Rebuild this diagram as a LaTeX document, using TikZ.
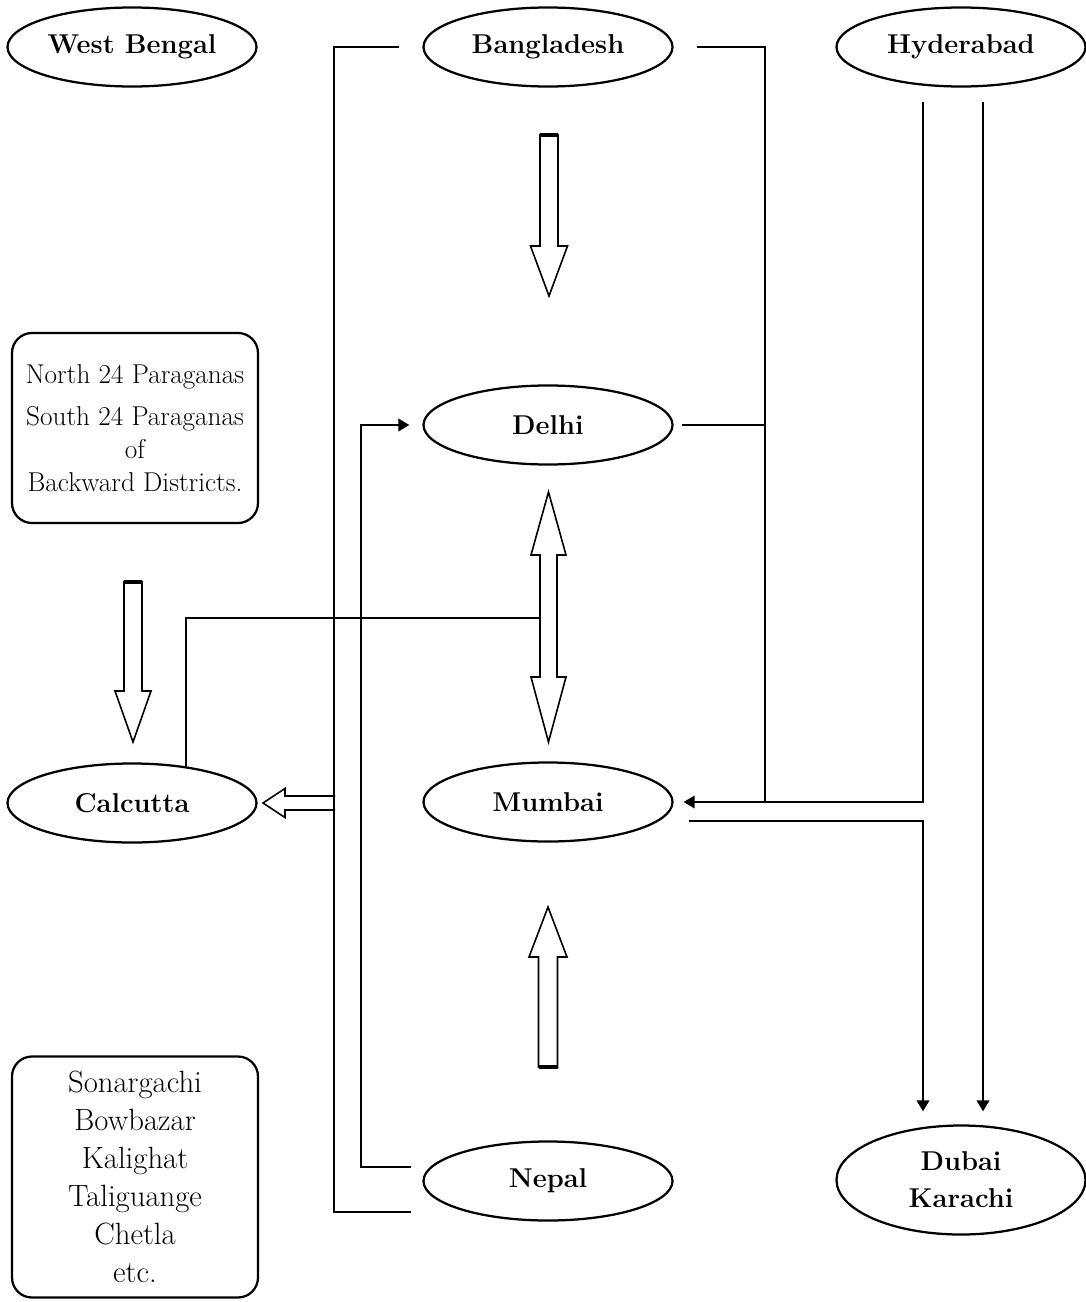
\documentclass[tikz,border=0pt]{standalone}
\usepackage{tikz}
\usetikzlibrary{shapes.geometric,arrows.meta,calc}

\tikzset{
	place/.style={shape=ellipse,draw=black,line width=0.45mm,minimum width=49.8mm,minimum height=15.8mm,inner sep=0pt,align=center,font=\fontsize{15.5}{21}\selectfont\bfseries},
	areas/.style={draw=black,rounded corners=4mm,line width=0.45mm,inner sep=0pt,minimum width=49.2mm,align=center},
	link/.style={line width=0.4mm},
	pointer/.style={-{Triangle[length=2.2mm,width=2.5mm]}},
	hollow/.style={line width=0.32mm,line join=miter},
	tailend/.style={line width=0.7mm}
}

\begin{document}
\begin{tikzpicture}[x=0.2mm,y=-0.2mm]
	\useasboundingbox (0,0) rectangle (1085,1302);

	\node[place] (wb) at (132,47)   {West Bengal};
	\node[place] (bd) at (548,47)   {Bangladesh};
	\node[place] (hy) at (961,47)   {Hyderabad};
	\node[place] (dl) at (548,425)  {Delhi};
	\node[place] (cal) at (132,803) {Calcutta};
	\node[place] (mb) at (548,802)  {Mumbai};
	\node[place] (np) at (548,1181) {Nepal};
	\node[place,minimum height=21.8mm] (dk) at (961,1180) {Dubai\\Karachi};

	\node[areas,minimum height=38mm,font=\fontsize{15.5}{18.8}\selectfont] (pg) at (135,428)
		{North 24 Paraganas\\[5pt]South 24 Paraganas\\of\\Backward Districts.};
	\node[areas,minimum height=48.2mm,font=\fontsize{17.5}{21.6}\selectfont] (rl) at (135,1177)
		{Sonargachi\\Bowbazar\\Kalighat\\Taliguange\\Chetla\\etc.};

	\coordinate (bdtail) at (549,135);
	\coordinate (dmtop) at (548.5,492);
	\coordinate (dmleft) at (540,618);
	\coordinate (pgtail) at (133,582);
	\coordinate (nptail) at (548,1067);
	\coordinate (caltail) at (335,803);

	% bangladesh
	\draw[link] ($(bd.west)+(-23,0)$) -- ++(-65,0) |- ($(np.west)+(-11,31)$);
	\draw[link] ($(bd.east)+(23,0)$) -| ($(mb.east)+(91,0)$);
	\draw[link] ($(dl.east)+(8,0)$) -- ++(84,0);
	% hyderabad
	\draw[link,pointer] ($(hy.south)+(-38,14)$) |- ($(mb.east)+(10,0)$);
	\draw[link,pointer] ($(hy.south)+(22,14)$) -- ($(dk.north)+(22,-13)$);
	\draw[link,pointer] ($(mb.east)+(15,19)$) -| ($(dk.north)+(-38,-13)$);
	% nepal
	\draw[link,pointer] ($(np.west)+(-11,-14)$) -- ++(-50,0) |- ($(dl.west)+(-13,0)$);
	% calcutta
	\draw[link] (cal.34) |- (dmleft);

	% hollow arrows
	\draw[hollow] (bdtail) ++(-9,0) -- ++(0,111) -- ++(-9.5,0) -- ++(18.5,50) -- ++(18.5,-50) -- ++(-9.5,0) -- ++(0,-111) -- cycle;
	\draw[tailend] (bdtail) ++(-9,0) -- ++(18,0);
	\draw[hollow] (dmtop) -- ++(17.5,63) -- ++(-9,0) -- ++(0,122) -- ++(9,0) -- ++(-17.5,65) -- ++(-17.5,-65) -- ++(9,0) -- ++(0,-122) -- ++(-9,0) -- cycle;
	\draw[hollow] (pgtail) ++(-9,0) -- ++(0,109) -- ++(-9,0) -- ++(18,51) -- ++(18,-51) -- ++(-9,0) -- ++(0,-109) -- cycle;
	\draw[tailend] (pgtail) ++(-9,0) -- ++(18,0);
	\draw[hollow] (nptail) ++(-9.5,0) -- ++(0,-110) -- ++(-9.5,0) -- ++(19,-50) -- ++(19,50) -- ++(-9.5,0) -- ++(0,110) -- cycle;
	\draw[tailend] (nptail) ++(-9.5,0) -- ++(19,0);
	\draw[hollow] (caltail) ++(0,-7) -- ++(-50,0) -- ++(0,-7.5) -- ++(-22,14.5) -- ++(22,14.5) -- ++(0,-7.5) -- ++(50,0);

\end{tikzpicture}
\end{document}
